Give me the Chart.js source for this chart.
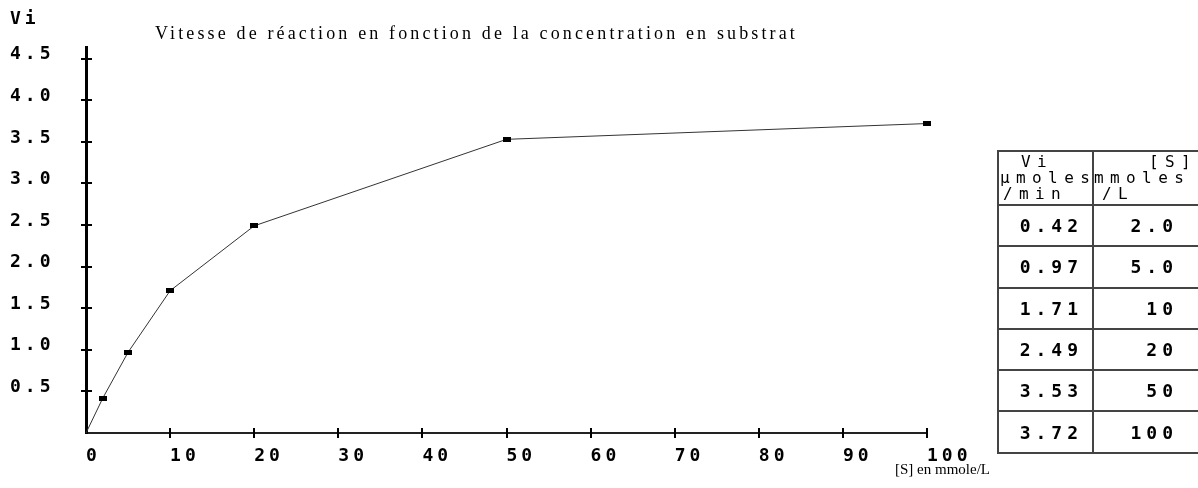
<!DOCTYPE html>
<html>
<head>
<meta charset="utf-8">
<script src="https://cdn.jsdelivr.net/npm/chart.js@4"></script>
<style>
html,body{margin:0;padding:0;background:#fff;overflow:hidden;}
#wrap{position:relative;width:1198px;height:488px;overflow:hidden;}
#c{position:absolute;left:0;top:0;}
.txt{position:absolute;color:#000;white-space:pre;line-height:normal;}
#vi{left:10px;top:7px;font:bold 18px 'DejaVu Sans Mono';letter-spacing:4px;}
#title{left:155px;top:23px;font:18px 'Liberation Serif';}
#xlab{left:895px;top:461px;font:15px 'Liberation Serif';}
#tbox{position:absolute;left:997px;top:150px;width:201px;height:310px;overflow:hidden;}
#tbl{width:240px;border-collapse:collapse;table-layout:fixed;}
#tbl td{border:2px solid #444;padding:0;color:#000;}
#tbl td.h{vertical-align:top;height:50px;font:16px 'DejaVu Sans Mono';letter-spacing:6.4px;line-height:16px;padding-top:2px;white-space:pre;}
#tbl td.n{height:39.3px;font:bold 18px 'DejaVu Sans Mono';letter-spacing:5px;text-align:right;vertical-align:middle;}
#tbl td.n1{padding-right:9px;}
#tbl td.n2{padding-right:59px;}
</style>
</head>
<body>
<div id="wrap">
  <canvas id="c" width="1198" height="488"></canvas>
  <div class="txt" id="vi">Vi</div>
  <div class="txt" id="title">Vitesse de réaction en fonction de la concentration en substrat</div>
  <div class="txt" id="xlab">[S] en mmole/L</div>
  <div id="tbox"><table id="tbl"></table></div>
</div>
<script>
// ── DATA ──
const sVals =[0, 2, 5, 10, 20, 50, 100];          // [S] en mmole/L
const viVals=[0, 0.42, 0.97, 1.71, 2.49, 3.53, 3.72]; // Vi µmoles/min
const headVi=['Vi','µmoles','/min'];
const headS =['[S]','mmoles','/L'];

// ── TABLE ──
const tbl=document.getElementById('tbl');
const hPadVi=[22,1,4], hPadS=[55,0,8];
let html='<colgroup><col style="width:95px"><col style="width:145px"></colgroup>';
html+='<tr><td class="h">'+headVi.map((t,i)=>'<div style="padding-left:'+hPadVi[i]+'px">'+t+'</div>').join('')+'</td>'
    +'<td class="h">'+headS.map((t,i)=>'<div style="padding-left:'+hPadS[i]+'px">'+t+'</div>').join('')+'</td></tr>';
sVals.forEach((s,i)=>{
  if(i===0) return;
  html+='<tr><td class="n n1">'+viVals[i].toFixed(2)+'</td><td class="n n2">'+(s<10?s.toFixed(1):String(s))+'</td></tr>';
});
tbl.innerHTML=html;

// fit title width
const ttl=document.getElementById('title');
const tw=ttl.getBoundingClientRect().width;
ttl.style.letterSpacing=((643-tw)/ttl.textContent.length)+'px';

// ── CHART ──
const mark=document.createElement('canvas'); mark.width=8; mark.height=5;
const mctx=mark.getContext('2d'); mctx.fillStyle='#000'; mctx.fillRect(0,0,8,5);

const tickFont={family:'DejaVu Sans Mono', size:18, weight:'bold'};
const spacing={ id:'spacing',
  beforeUpdate(ch){ ch.ctx.letterSpacing='4px'; },
  beforeDraw(ch){ ch.ctx.letterSpacing='4px'; } };

const crossTicks={ id:'crossTicks', afterDraw(ch){
  const {ctx}=ch, x=ch.scales.x, y=ch.scales.y;
  const y0=y.getPixelForValue(0), x0=x.getPixelForValue(0);
  ctx.save(); ctx.strokeStyle='#000'; ctx.lineWidth=2;
  x.ticks.forEach(t=>{ if(t.value===0) return;
    const px=Math.round(x.getPixelForValue(t.value));
    ctx.beginPath(); ctx.moveTo(px,y0-5); ctx.lineTo(px,y0+5); ctx.stroke(); });
  y.ticks.forEach(t=>{ if(t.value===0) return;
    const py=Math.round(y.getPixelForValue(t.value));
    ctx.beginPath(); ctx.moveTo(x0-5,py); ctx.lineTo(x0+6,py); ctx.stroke(); });
  ctx.restore();
}};

new Chart(document.getElementById('c'),{
  type:'scatter',
  data:{ datasets:[{
    data:sVals.map((s,i)=>({x:s,y:viVals[i]})),
    showLine:true, borderColor:'#333', borderWidth:1, tension:0, clip:false,
    pointStyle:mark, pointRadius:sVals.map((s,i)=>i===0?0:3), pointHoverRadius:3,
    backgroundColor:'#000'
  }]},
  options:{
    responsive:false, animation:false, events:[],
    layout:{ padding:{ left:10, top:47, right:271, bottom:25 } },
    plugins:{ legend:{display:false}, tooltip:{enabled:false}, title:{display:false} },
    scales:{
      x:{ type:'linear', min:0, max:100,
        grid:{display:false}, border:{display:true, color:'#222', width:2},
        ticks:{ stepSize:10, color:'#000', font:tickFont, align:'start', padding:5, maxRotation:0, autoSkip:false },
        afterFit(s){ s.height=30; s.paddingLeft=0; s.paddingRight=0; }
      },
      y:{ type:'linear', min:0, max:4.64,
        grid:{display:false}, border:{display:true, color:'#000', width:3},
        ticks:{ stepSize:0.5, includeBounds:false, color:'#000', font:tickFont, crossAlign:'far', labelOffset:-4,
          callback:v=>v===0?'':v.toFixed(1) },
        afterFit(s){ s.width=76; s.paddingTop=0; s.paddingBottom=0; }
      }
    }
  },
  plugins:[spacing, crossTicks]
});
</script>
</body>
</html>
